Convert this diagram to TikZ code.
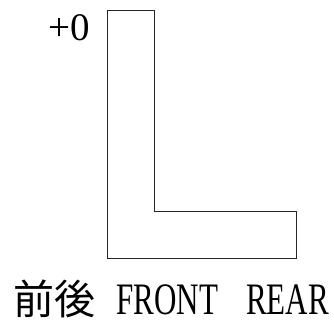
\documentclass[tikz,border=0pt]{standalone}
\usepackage{fontspec}
\setmainfont{Liberation Serif}
\newfontfamily\cjk{Noto Sans CJK JP}
\newfontfamily\condserif[FakeStretch=0.69]{Liberation Serif}
\tikzset{
  outline/.style={draw=black!85, line width=0.9pt, line join=miter},
  lbl/.style={inner sep=0pt, outer sep=0pt, text=black}
}
\begin{document}
\begin{tikzpicture}[x=1pt,y=-1pt]
\useasboundingbox (0,0) rectangle (334,322);
\draw[outline] (107.3,10) coordinate (p1) -- (154.3,10) -- (154.3,211.3) -- (296,211.3) -- (296,258.7) -- (107.3,258.7) -- cycle;
\node[lbl, anchor=base east, font=\fontsize{39}{39}\selectfont] (plus) at (89.5,40.7) {+0};
\node[lbl, anchor=base west] (caption) at (13,314.7) {{\cjk\fontsize{41}{41}\selectfont 前後}\hspace{21.5pt}{\condserif\fontsize{45}{45}\selectfont FRONT\hspace{28pt}REAR}};
\end{tikzpicture}
\end{document}
